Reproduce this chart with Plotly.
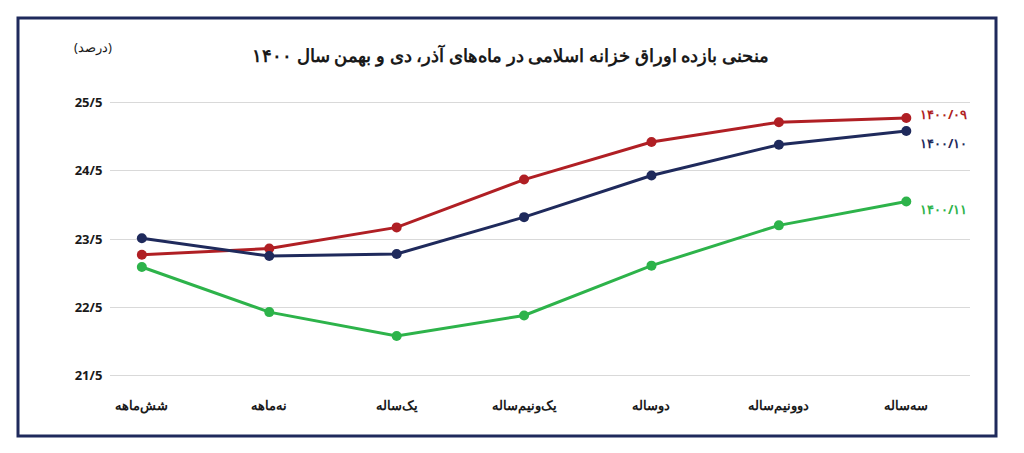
import plotly.graph_objects as go

categories = ["شش‌ماهه", "نه‌ماهه", "یک‌ساله", "یک‌ونیم‌ساله", "دوساله", "دوونیم‌ساله", "سه‌ساله"]
s09 = [23.27, 23.36, 23.67, 24.37, 24.92, 25.21, 25.27]
s10 = [23.51, 23.25, 23.28, 23.82, 24.43, 24.88, 25.08]
s11 = [23.09, 22.43, 22.08, 22.38, 23.11, 23.70, 24.05]
names = ["۱۴۰۰/۰۹", "۱۴۰۰/۱۰", "۱۴۰۰/۱۱"]
colors = ["#b01f24", "#1f2a5c", "#2db34a"]
label_shift = [4, -12, -8]
tickvals = [21.5, 22.5, 23.5, 24.5, 25.5]
ticktext = ["21/5", "22/5", "23/5", "24/5", "25/5"]

OFF = 8
W, H = 1024, 453
L, R, T, B = 110 - OFF, 54 + OFF, 101 - OFF, 76 + OFF
pw, ph = W - L - R, H - T - B
def px(x): return (x - OFF - L) / pw
def py(y): return (H - B - (y - OFF)) / ph

fig = go.Figure()
for s, n, c, ys in zip([s09, s10, s11], names, colors, label_shift):
    fig.add_trace(go.Scatter(x=list(range(7)), y=s, mode="lines+markers", name=n,
                             line=dict(color=c, width=3), marker=dict(color=c, size=10)))
    fig.add_annotation(x=6, y=s[-1], text="<b>" + n + "</b>", showarrow=False,
                       xanchor="left", xshift=12, yshift=ys,
                       font=dict(color=c, size=13, family="Noto Sans"))

fig.add_shape(type="rect", xref="paper", yref="paper",
              x0=px(18), x1=px(996), y0=py(436), y1=py(18),
              line=dict(color="#1f2a5c", width=3))
fig.add_annotation(xref="paper", yref="paper", x=px(510), y=py(41),
                   text="<b>منحنی بازده اوراق خزانه اسلامی در ماه‌های آذر، دی و بهمن سال ۱۴۰۰</b>",
                   showarrow=False, font=dict(size=18, color="#1a1a1a", family="Noto Sans"))
fig.add_annotation(xref="paper", yref="paper", x=px(72), y=py(36),
                   text="(درصد)", showarrow=False, font=dict(size=13, color="#1a1a1a", family="Noto Sans"))

fig.update_layout(
    width=W, height=H, margin=dict(l=L, r=R, t=T, b=B),
    paper_bgcolor="white", plot_bgcolor="white", showlegend=False,
    font=dict(family="Noto Sans", color="#1a1a1a"),
    xaxis=dict(range=[-0.25, 6.5], tickvals=list(range(7)), ticktext=["<b>%s</b>" % c for c in categories],
               showgrid=False, zeroline=False, showline=False, tickfont=dict(size=13),
               ticks="outside", ticklen=16, tickcolor="rgba(0,0,0,0)"),
    yaxis=dict(range=[21.48, 25.52], tickvals=tickvals, ticktext=["<b>%s</b>" % t for t in ticktext],
               showgrid=True, gridcolor="#d9d9d9", zeroline=False, tickfont=dict(size=13),
               ticks="outside", ticklen=4, tickcolor="rgba(0,0,0,0)"),
)
fig.write_html("out.html")
